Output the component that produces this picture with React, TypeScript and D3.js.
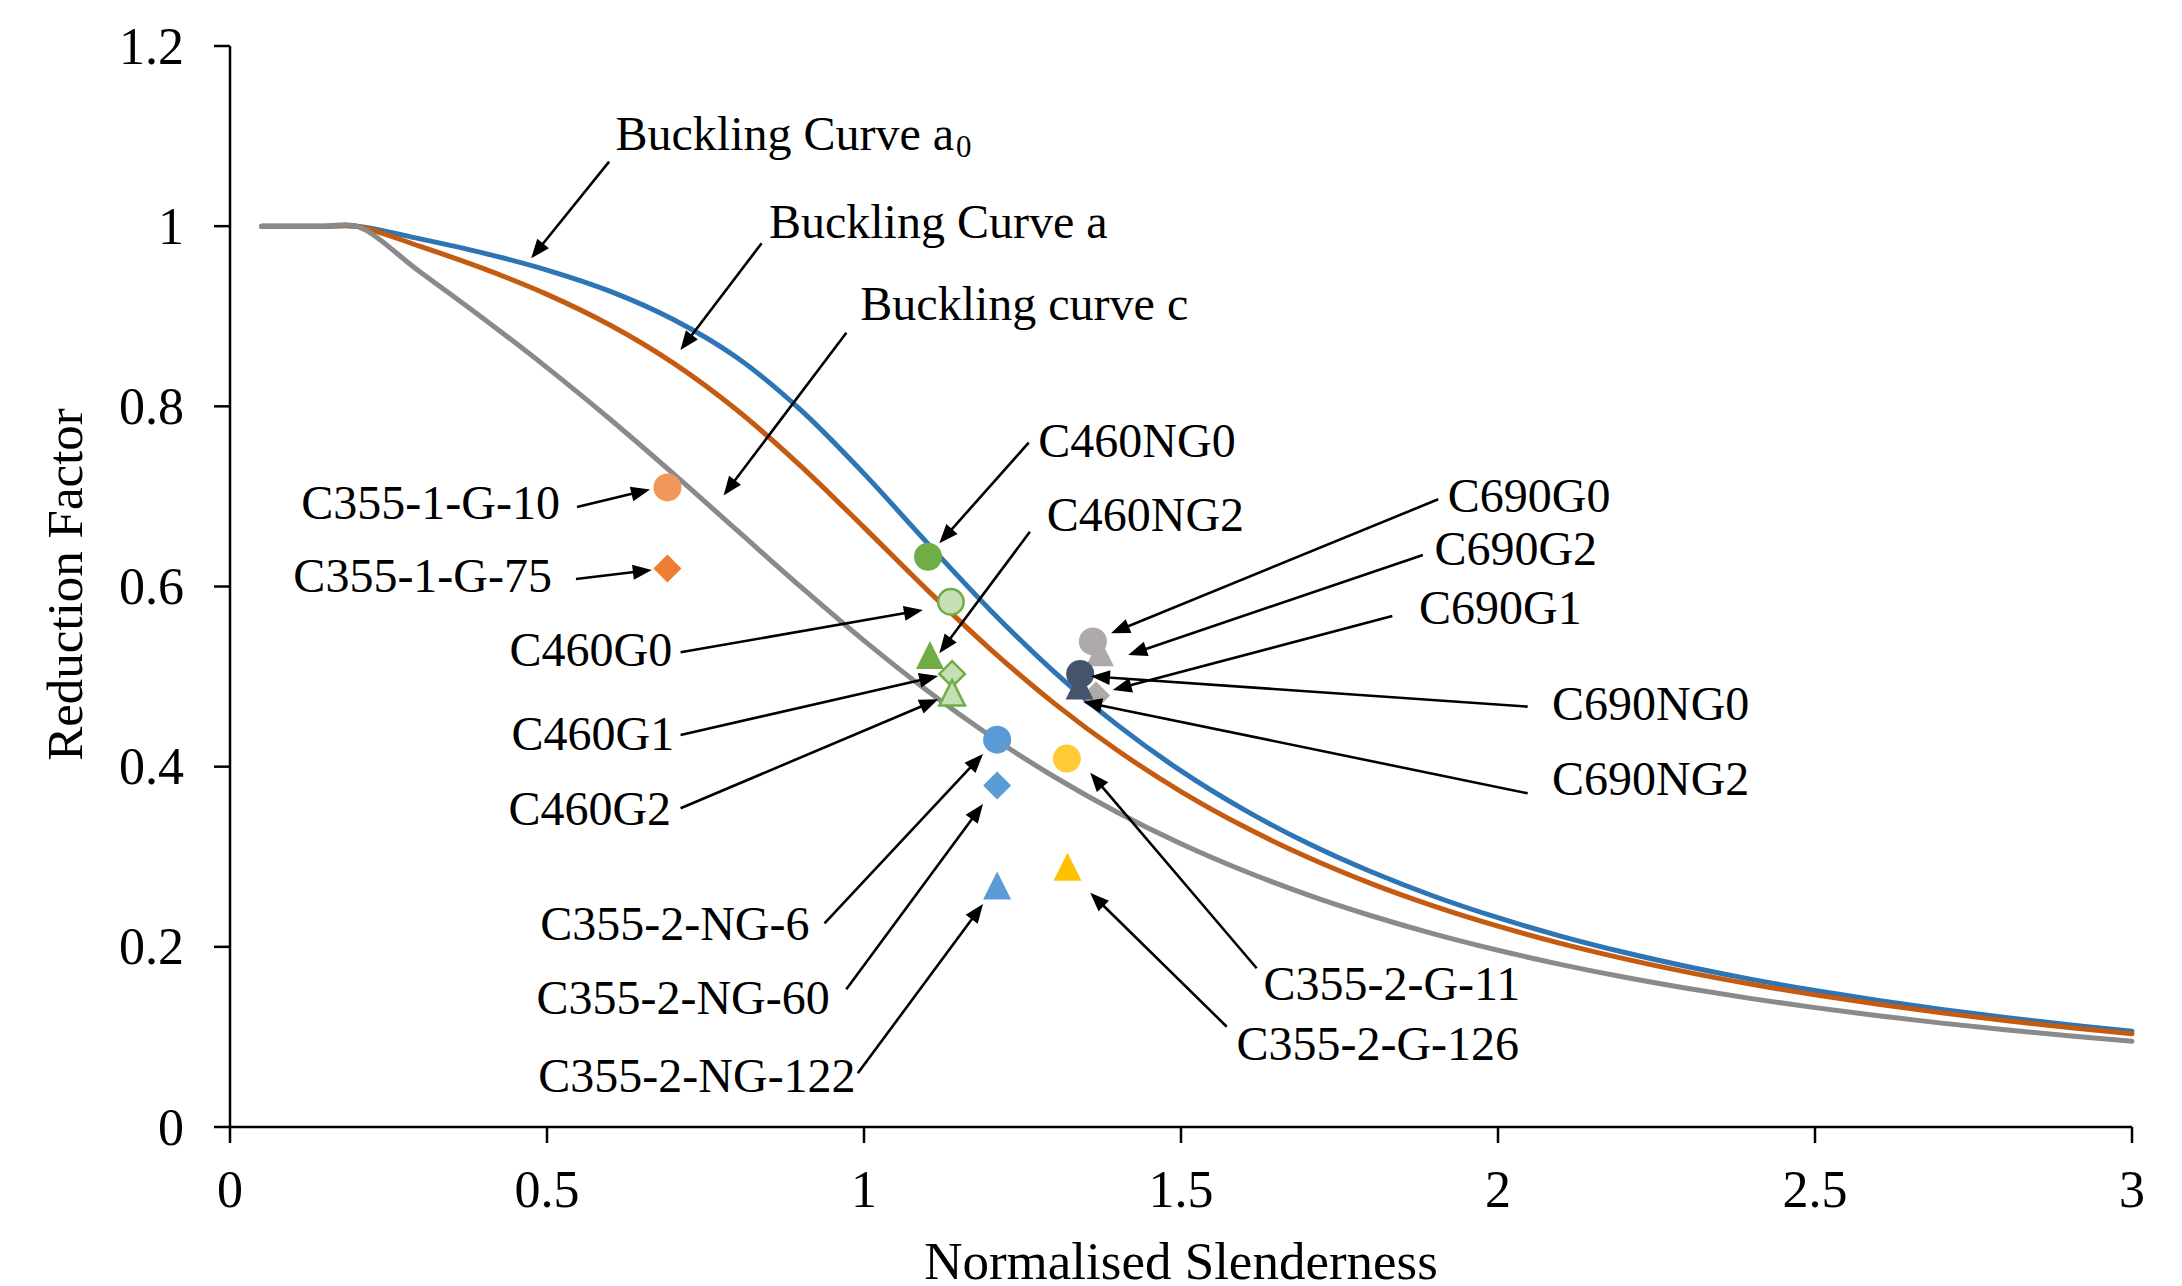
import React from "react";
import * as d3 from "d3";

// ---------- data ----------
const slenderness = [0.05, 0.1, 0.15, 0.2, 0.3, 0.4, 0.5, 0.6, 0.7, 0.8, 0.9, 1.0, 1.1, 1.2, 1.3, 1.4, 1.5, 1.6, 1.7, 1.8, 1.9, 2.0, 2.1, 2.2, 2.3, 2.4, 2.5, 2.6, 2.7, 2.8, 2.9, 3.0];
const curveA0 = [1, 1, 1, 1, 0.9859, 0.9701, 0.9513, 0.9276, 0.8961, 0.8539, 0.7961, 0.7253, 0.6482, 0.5732, 0.5053, 0.4461, 0.3953, 0.352, 0.3149, 0.2833, 0.2559, 0.2323, 0.2117, 0.1937, 0.1779, 0.1639, 0.1515, 0.1404, 0.1305, 0.1216, 0.1136, 0.1063];
const curveA = [1, 1, 1, 1, 0.9775, 0.9528, 0.9243, 0.89, 0.8477, 0.7957, 0.7339, 0.6656, 0.596, 0.53, 0.4703, 0.4179, 0.3724, 0.3332, 0.2994, 0.2702, 0.2449, 0.2229, 0.2036, 0.1867, 0.1717, 0.1585, 0.1467, 0.1362, 0.1267, 0.1182, 0.1105, 0.1036];
const curveC = [1, 1, 1, 1, 0.9491, 0.8973, 0.843, 0.7854, 0.7247, 0.6622, 0.5998, 0.5399, 0.4842, 0.4338, 0.3888, 0.3492, 0.3145, 0.2842, 0.2577, 0.2345, 0.2141, 0.1962, 0.1803, 0.1662, 0.1537, 0.1425, 0.1325, 0.1234, 0.1153, 0.1079, 0.1012, 0.0951];

const specimenNames = ["C355-1-G-10", "C355-1-G-75", "C460NG0", "C460NG2", "C460G0", "C460G1", "C460G2", "C355-2-NG-6", "C355-2-NG-60", "C355-2-NG-122", "C355-2-G-11", "C355-2-G-126", "C690G1", "C690G2", "C690G0", "C690NG2", "C690NG0"];
const specimenSlenderness = [0.69, 0.69, 1.101, 1.104, 1.137, 1.139, 1.139, 1.21, 1.21, 1.21, 1.32, 1.321, 1.366, 1.372, 1.361, 1.34, 1.341];
const specimenReduction = [0.71, 0.62, 0.633, 0.524, 0.583, 0.503, 0.482, 0.43, 0.379, 0.268, 0.409, 0.289, 0.479, 0.527, 0.539, 0.49, 0.503];

const xTicks = [0, 0.5, 1, 1.5, 2, 2.5, 3];
const xTickLabels = ["0", "0.5", "1", "1.5", "2", "2.5", "3"];
const yTicks = [0, 0.2, 0.4, 0.6, 0.8, 1, 1.2];
const yTickLabels = ["0", "0.2", "0.4", "0.6", "0.8", "1", "1.2"];

// ---------- styles ----------
const specimenStyles = [
  { shape: "circle", fill: "#F1975A", stroke: "none" },
  { shape: "diamond", fill: "#ED7D31", stroke: "none" },
  { shape: "circle", fill: "#70AD47", stroke: "none" },
  { shape: "triangle", fill: "#70AD47", stroke: "none" },
  { shape: "circle", fill: "#C5E0B4", stroke: "#70AD47" },
  { shape: "diamond", fill: "#C5E0B4", stroke: "#70AD47" },
  { shape: "triangle", fill: "#C5E0B4", stroke: "#70AD47" },
  { shape: "circle", fill: "#5B9BD5", stroke: "none" },
  { shape: "diamond", fill: "#5B9BD5", stroke: "none" },
  { shape: "triangle", fill: "#5B9BD5", stroke: "none" },
  { shape: "circle", fill: "#FFCA35", stroke: "none" },
  { shape: "triangle", fill: "#FFC000", stroke: "none" },
  { shape: "diamond", fill: "#AEAAAA", stroke: "none" },
  { shape: "triangle", fill: "#AEAAAA", stroke: "none" },
  { shape: "circle", fill: "#AEAAAA", stroke: "none" },
  { shape: "triangle", fill: "#44546A", stroke: "none" },
  { shape: "circle", fill: "#44546A", stroke: "none" },
];

// annotation layout, in data units (slenderness, reduction factor)
const annotations = [
  { text: "Buckling Curve a", sub: "0", tx: 0.608, ty: 1.0846, anchor: "start", from: [0.598, 1.0716], to: [0.475, 0.9643] },
  { text: "Buckling Curve a", sub: "", tx: 0.85, ty: 0.9865, anchor: "start", from: [0.8385, 0.981], to: [0.7104, 0.8625] },
  { text: "Buckling curve c", sub: "", tx: 0.9942, ty: 0.8958, anchor: "start", from: [0.9722, 0.8817], to: [0.7785, 0.7011] },
  { text: "C460NG0", sub: "", tx: 1.2749, ty: 0.7441, anchor: "start", from: [1.2598, 0.7596], to: [1.1188, 0.648] },
  { text: "C460NG2", sub: "", tx: 1.2882, ty: 0.6619, anchor: "start", from: [1.2617, 0.6608], to: [1.1188, 0.5259] },
  { text: "C690G0", sub: "", tx: 1.9208, ty: 0.683, anchor: "start", from: [1.9057, 0.6968], to: [1.3896, 0.548] },
  { text: "C690G2", sub: "", tx: 1.8997, ty: 0.6239, anchor: "start", from: [1.8815, 0.635], to: [1.4167, 0.524] },
  { text: "C690G1", sub: "", tx: 1.8754, ty: 0.5584, anchor: "start", from: [1.8333, 0.5673], to: [1.3923, 0.4851] },
  { text: "C690NG0", sub: "", tx: 2.0852, ty: 0.4518, anchor: "start", from: [2.0468, 0.4666], to: [1.358, 0.5003] },
  { text: "C690NG2", sub: "", tx: 2.0852, ty: 0.3686, anchor: "start", from: [2.0468, 0.3704], to: [1.3454, 0.4721] },
  { text: "C355-1-G-10", sub: "", tx: 0.5205, ty: 0.6749, anchor: "end", from: [0.5473, 0.6882], to: [0.6625, 0.7077] },
  { text: "C355-1-G-75", sub: "", tx: 0.5079, ty: 0.5944, anchor: "end", from: [0.5457, 0.6083], to: [0.6653, 0.6183] },
  { text: "C460G0", sub: "", tx: 0.441, ty: 0.5121, anchor: "start", from: [0.7107, 0.527], to: [1.0929, 0.5739] },
  { text: "C460G1", sub: "", tx: 0.444, ty: 0.4185, anchor: "start", from: [0.7107, 0.4352], to: [1.117, 0.5007] },
  { text: "C460G2", sub: "", tx: 0.4391, ty: 0.3352, anchor: "start", from: [0.7107, 0.3538], to: [1.117, 0.4748] },
  { text: "C355-2-NG-6", sub: "", tx: 0.4893, ty: 0.2076, anchor: "start", from: [0.9377, 0.2261], to: [1.1877, 0.4141] },
  { text: "C355-2-NG-60", sub: "", tx: 0.4833, ty: 0.1251, anchor: "start", from: [0.9721, 0.1529], to: [1.1877, 0.3586] },
  { text: "C355-2-NG-122", sub: "", tx: 0.4863, ty: 0.0392, anchor: "start", from: [0.9902, 0.0596], to: [1.1877, 0.2475] },
  { text: "C355-2-G-11", sub: "", tx: 1.6301, ty: 0.141, anchor: "start", from: [1.6194, 0.1762], to: [1.3568, 0.3933] },
  { text: "C355-2-G-126", sub: "", tx: 1.5874, ty: 0.0744, anchor: "start", from: [1.5722, 0.1113], to: [1.3568, 0.2601] },
];

const W = 2182;
const H = 1286;
const M = { left: 230, right: 2132, top: 46, bottom: 1127 };
const FONT = "'Liberation Serif', 'Times New Roman', serif";

function Marker({ cx, cy, style }) {
  const r = 14;
  const sw = style.stroke === "none" ? 0 : 2.5;
  if (style.shape === "circle") {
    return <circle cx={cx} cy={cy} r={style.stroke === "none" ? r : r - 1.2} fill={style.fill} stroke={style.stroke} strokeWidth={sw} />;
  }
  if (style.shape === "diamond") {
    const s = style.stroke === "none" ? r : r - 1.2;
    const pts = `${cx},${cy - s} ${cx + s},${cy} ${cx},${cy + s} ${cx - s},${cy}`;
    return <polygon points={pts} fill={style.fill} stroke={style.stroke} strokeWidth={sw} strokeLinejoin="miter" />;
  }
  const s = style.stroke === "none" ? r : r - 1.2;
  const pts = `${cx},${cy - s} ${cx + s},${cy + s} ${cx - s},${cy + s}`;
  return <polygon points={pts} fill={style.fill} stroke={style.stroke} strokeWidth={sw} />;
}

function Arrow({ x1, y1, x2, y2 }) {
  const dx = x2 - x1;
  const dy = y2 - y1;
  const L = Math.sqrt(dx * dx + dy * dy);
  const ux = dx / L;
  const uy = dy / L;
  const hl = 19;
  const hw = 7.5;
  const bx = x2 - ux * hl;
  const by = y2 - uy * hl;
  const nx = -uy;
  const ny = ux;
  const pts = `${x2},${y2} ${bx + nx * hw},${by + ny * hw} ${bx - nx * hw},${by - ny * hw}`;
  return (
    <g>
      <line x1={x1} y1={y1} x2={x2 - ux * hl * 0.7} y2={y2 - uy * hl * 0.7} stroke="#000" strokeWidth={2.6} />
      <polygon points={pts} fill="#000" />
    </g>
  );
}

export default function App() {
  const x = d3.scaleLinear().domain([0, 3]).range([M.left, M.right]);
  const y = d3.scaleLinear().domain([0, 1.2]).range([M.bottom, M.top]);

  const line = d3
    .line()
    .x((d) => x(d[0]))
    .y((d) => y(d[1]))
    .curve(d3.curveCatmullRom.alpha(0.5));

  const curves = [
    { values: curveA0, color: "#2E75B6" },
    { values: curveA, color: "#C55A11" },
    { values: curveC, color: "#8A8A8A" },
  ];

  return (
    <svg width={W} height={H} style={{ position: "absolute", left: 0, top: 0, background: "#fff" }} fontFamily={FONT}>
      <rect x={0} y={0} width={W} height={H} fill="#fff" />
      {/* axes */}
      <line x1={M.left} y1={M.top} x2={M.left} y2={M.bottom} stroke="#000" strokeWidth={2.5} />
      <line x1={M.left} y1={M.bottom} x2={M.right} y2={M.bottom} stroke="#000" strokeWidth={2.5} />
      {yTicks.map((t, i) => (
        <g key={"yt" + i}>
          <line x1={M.left - 16} x2={M.left} y1={y(t)} y2={y(t)} stroke="#000" strokeWidth={2.5} />
          <text x={M.left - 46} y={y(t) + 17.5} textAnchor="end" fontSize={52} fill="#000">
            {yTickLabels[i]}
          </text>
        </g>
      ))}
      {xTicks.map((t, i) => (
        <g key={"xt" + i}>
          <line x1={x(t)} x2={x(t)} y1={M.bottom} y2={M.bottom + 16} stroke="#000" strokeWidth={2.5} />
          <text x={x(t)} y={M.bottom + 80} textAnchor="middle" fontSize={52} fill="#000">
            {xTickLabels[i]}
          </text>
        </g>
      ))}
      <text x={(M.left + M.right) / 2} y={1279} textAnchor="middle" fontSize={53} fill="#000">
        Normalised Slenderness
      </text>
      <text transform={`translate(82, ${(M.top + M.bottom) / 2 - 2}) rotate(-90)`} textAnchor="middle" fontSize={51} fill="#000">
        Reduction Factor
      </text>

      {/* curves */}
      {curves.map((c, i) => (
        <path
          key={"c" + i}
          d={line(slenderness.map((s, j) => [s, c.values[j]]))}
          fill="none"
          stroke={c.color}
          strokeWidth={5}
          strokeLinecap="round"
          strokeLinejoin="round"
        />
      ))}

      {/* specimens */}
      {specimenNames.map((n, i) => (
        <Marker key={n} cx={x(specimenSlenderness[i])} cy={y(specimenReduction[i])} style={specimenStyles[i]} />
      ))}

      {/* annotations */}
      {annotations.map((a, i) => (
        <g key={"a" + i}>
          <Arrow x1={x(a.from[0])} y1={y(a.from[1])} x2={x(a.to[0])} y2={y(a.to[1])} />
          <text x={x(a.tx)} y={y(a.ty)} textAnchor={a.anchor} fontSize={48} fill="#000">
            {a.text}
            {a.sub ? (
              <tspan fontSize={31} dy={7} dx={2}>
                {a.sub}
              </tspan>
            ) : null}
          </text>
        </g>
      ))}
    </svg>
  );
}
